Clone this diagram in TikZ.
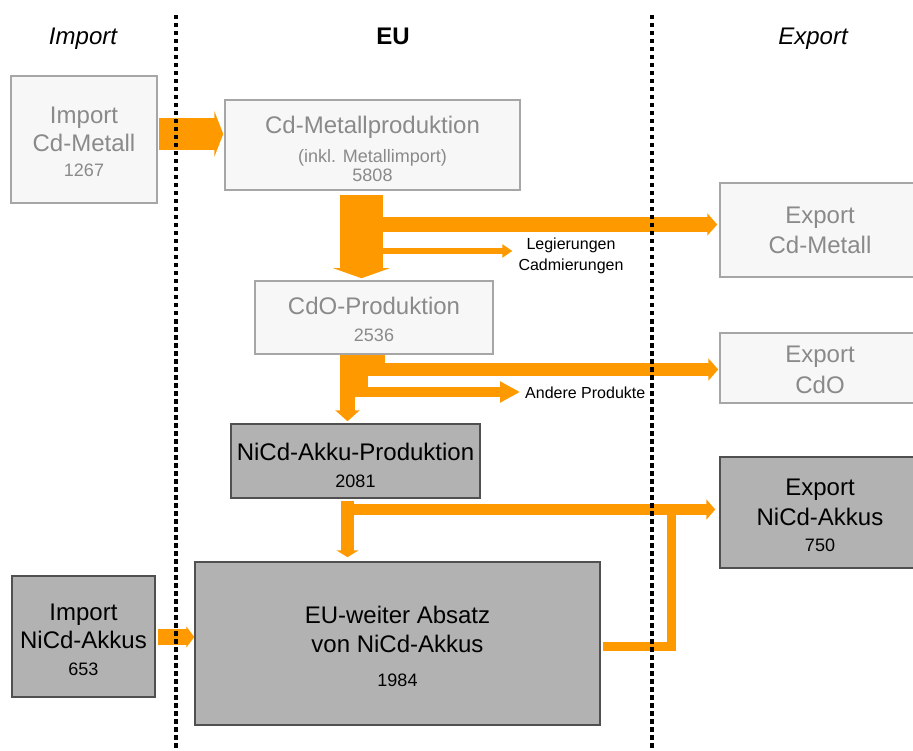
\documentclass[tikz,border=0pt]{standalone}
\usepackage{fontspec}
\setmainfont{Liberation Sans}
\usetikzlibrary{arrows.meta,calc}
\definecolor{orng}{RGB}{255,153,0}
\definecolor{lfill}{RGB}{247,247,247}
\definecolor{lline}{RGB}{166,166,166}
\definecolor{ltext}{RGB}{138,138,138}
\definecolor{dfill}{RGB}{178,178,178}
\definecolor{dline}{RGB}{80,80,80}
\newcommand{\numf}{\fontsize{18}{20}\selectfont}
\begin{document}
\begin{tikzpicture}[x=1pt,y=-1pt,
  lightbox/.style={draw=lline, line width=1.5pt, fill=lfill, inner sep=0pt},
  darkbox/.style={draw=dline, line width=1.5pt, fill=dfill, inner sep=0pt},
  btxt/.style={align=center, font=\fontsize{24}{29}\selectfont, inner sep=0pt},
  ltxt/.style={btxt, text=ltext},
  dtxt/.style={btxt, text=black},
  headtxt/.style={anchor=base, inner sep=0pt},
  flow/.style={draw=orng, line cap=butt},
  lbl/.style={font=\fontsize{16}{21}\selectfont, align=center, inner sep=0pt},
  divider/.style={line width=4.5pt, dash pattern=on 4.5pt off 3.5pt}
]
\useasboundingbox (0,0) rectangle (913,751);
\clip (0,0) rectangle (913,751);

% headers
\node[headtxt, font=\fontsize{24}{28}\selectfont\itshape] (hImp) at (83,45) {Import};
\node[headtxt, font=\fontsize{24}{28}\selectfont\bfseries] (hEU) at (393,45) {EU};
\node[headtxt, font=\fontsize{24}{28}\selectfont\itshape] (hExp) at (813,45) {Export};

% boxes
\node[lightbox, minimum width=146pt, minimum height=127pt,
  label={[ltxt, yshift=-2pt]center:{Import\\[-1pt]Cd-Metall\\[-4pt]{\numf 1267}}}] (imp1) at (84,139.5) {};
\node[lightbox, minimum width=295pt, minimum height=90pt,
  label={[ltxt, yshift=-4pt]center:{Cd-Metallproduktion\\[0.5pt]{\numf (inkl. Metallimport)}\\[-10pt]{\numf 5808}}}] (cdm) at (372.5,145) {};
\node[lightbox, minimum width=238pt, minimum height=73pt,
  label={[ltxt, yshift=-2pt]center:{CdO-Produktion\\[-2pt]{\numf 2536}}}] (cdo) at (374,317.5) {};
\node[darkbox, minimum width=249pt, minimum height=74pt,
  label={[dtxt, yshift=-4pt]center:{NiCd-Akku-Produktion\\[-2pt]{\numf 2081}}}] (akku) at (355.5,461) {};
\node[darkbox, minimum width=405pt, minimum height=163pt,
  label={[dtxt, yshift=-3pt]center:{EU-weiter Absatz\\[0pt]von NiCd-Akkus\\[5pt]{\numf 1984}}}] (eu) at (397.5,643.5) {};
\node[darkbox, minimum width=143pt, minimum height=121pt,
  label={[dtxt, yshift=-3pt]center:{Import\\[-1pt]NiCd-Akkus\\[-2pt]{\numf 653}}}] (impN) at (83.5,636.5) {};
\node[lightbox, minimum width=200pt, minimum height=94pt,
  label={[ltxt]center:{Export\\[1pt]Cd-Metall}}] (expCd) at (820,230) {};
\node[lightbox, minimum width=200pt, minimum height=70pt,
  label={[ltxt, yshift=-2pt]center:{Export\\[2pt]CdO}}] (expCdO) at (820,368) {};
\node[darkbox, minimum width=200pt, minimum height=111pt,
  label={[dtxt, yshift=-3pt]center:{Export\\[1pt]NiCd-Akkus\\[-3pt]{\numf 750}}}] (expN) at (820,512.5) {};

% side labels
\node[lbl] (leg) at (571,256) {Legierungen\\Cadmierungen};
\node[lbl, anchor=west] (andere) at (525,393) {Andere Produkte};

% junction coordinates
\coordinate (jCd) at (361.5,224.5);
\coordinate (jLeg) at (361.5,251);
\coordinate (jCdo) at (354,397);
\coordinate (jCdo2) at (347.5,385);
\coordinate (jExO) at (368,369.5);
\coordinate (jAnd) at (350,392);
\coordinate (jExN) at (347.5,509.5);
\coordinate (jRet) at (671.5,646.5);
\coordinate (jRet2) at (671.5,512);

% flows
\draw[flow, line width=32pt, -{Triangle[length=9pt,width=46pt]}, shorten <=1pt, shorten >=1pt]
  (imp1.east |- 0,134) -- (cdm.west |- 0,134);
\draw[flow, line width=16pt, -{Triangle[length=8pt,width=21pt]}, shorten <=2pt, shorten >=0pt]
  (impN.east |- 0,637) -- (eu.west |- 0,637);
\draw[flow, line width=15pt, -{Triangle[length=10pt,width=22pt]}, shorten >=2pt]
  (jCd) -- (expCd.west |- jCd);
\draw[flow, line width=6pt, -{Triangle[length=10pt,width=13pt]}, shorten >=6pt]
  (jLeg) -- (leg.west |- jLeg);
\draw[flow, line width=43pt, -{Triangle[length=10pt,width=56pt]}, shorten <=4pt, shorten >=2pt]
  (cdm.south -| 361.5,0) -- (cdo.north -| 361.5,0);

\fill[orng] (cdo.south -| 368,0) rectangle (385,372);
\draw[flow, line width=13pt, -{Triangle[length=10pt,width=22pt]}, shorten >=1pt]
  (jExO) -- (expCdO.west |- jExO);
\draw[flow, line width=10pt, -{Triangle[length=20pt,width=20pt]}, shorten >=5pt]
  (jAnd) -- (andere.west |- jAnd);
\draw[flow, line width=28pt] (cdo.south -| jCdo) -- (jCdo);
\draw[flow, line width=15pt, -{Triangle[length=11pt,width=24pt]}, shorten >=2pt]
  (jCdo2) -- (akku.north -| jCdo2);

\draw[flow, line width=13pt, -{Triangle[length=7pt,width=22pt]}, shorten <=2pt, shorten >=4pt]
  (akku.south -| jExN) -- (eu.north -| jExN);
\draw[flow, line width=11pt, -{Triangle[length=9pt,width=20pt]}, shorten >=4pt]
  (jExN) -- (expN.west |- jExN);
\draw[flow, line width=9pt, line join=miter, shorten <=2pt]
  (eu.east |- jRet) -- (jRet) -- (jRet2);

% dividers
\draw[divider] (176,15) -- (176,751);
\draw[divider] (652,15) -- (652,751);
\end{tikzpicture}
\end{document}
